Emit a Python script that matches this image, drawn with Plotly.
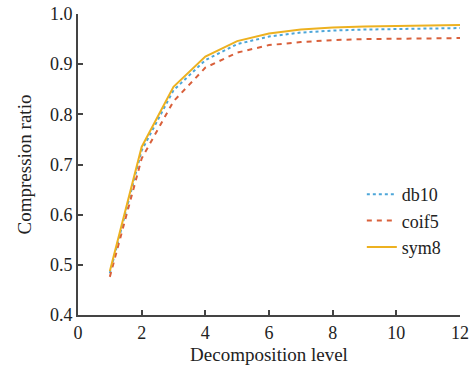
import plotly.graph_objects as go

levels = [1, 2, 3, 4, 5, 6, 7, 8, 9, 10, 11, 12]
db10 = [0.483, 0.728, 0.848, 0.908, 0.940, 0.955, 0.963, 0.967, 0.969, 0.970, 0.971, 0.972]
coif5 = [0.476, 0.712, 0.826, 0.893, 0.923, 0.938, 0.944, 0.948, 0.950, 0.951, 0.952, 0.952]
sym8 = [0.487, 0.735, 0.855, 0.915, 0.946, 0.961, 0.969, 0.973, 0.975, 0.976, 0.977, 0.978]

x_ticks = [0, 2, 4, 6, 8, 10, 12]
y_ticks = [0.4, 0.5, 0.6, 0.7, 0.8, 0.9, 1.0]
y_ticklabels = ["0.4", "0.5", "0.6", "0.7", "0.8", "0.9", "1.0"]

font = "Liberation Serif, Times New Roman, serif"

fig = go.Figure()
fig.add_trace(go.Scatter(x=levels, y=db10, mode="lines", name="db10",
                         line=dict(color="#4da6d9", width=2, dash="dot")))
fig.add_trace(go.Scatter(x=levels, y=coif5, mode="lines", name="coif5",
                         line=dict(color="#d9603b", width=2, dash="5px,5px")))
fig.add_trace(go.Scatter(x=levels, y=sym8, mode="lines", name="sym8",
                         line=dict(color="#edb120", width=2)))

axis_common = dict(showgrid=False, zeroline=False, showline=True, linecolor="#444444",
                   linewidth=2, ticks="inside", ticklen=5, tickwidth=1.5, tickcolor="#444444",
                   tickfont=dict(family=font, size=18, color="#222222"),
                   ticklabeloverflow="allow", mirror=False, automargin=False)

fig.update_layout(
    width=473, height=367,
    margin=dict(l=78, r=13, t=14, b=52),
    paper_bgcolor="white", plot_bgcolor="white",
    font=dict(family=font, size=18, color="#222222"),
    xaxis=dict(range=[0, 12], tickvals=x_ticks,
               title=dict(text="Decomposition level", font=dict(family=font, size=19), standoff=6),
               **axis_common),
    yaxis=dict(range=[0.4, 1.0], tickvals=y_ticks, ticktext=y_ticklabels,
               title=dict(text="Compression ratio", font=dict(family=font, size=19), standoff=13),
               **axis_common),
    legend=dict(x=0.743, y=0.462, xanchor="left", yanchor="top", bgcolor="rgba(0,0,0,0)",
                font=dict(family=font, size=18), tracegroupgap=0, itemwidth=30),
    showlegend=True,
)

fig.write_html("out.html", config={"displayModeBar": False},
               post_script="document.body.style.margin='0';document.body.style.overflow='hidden';")
